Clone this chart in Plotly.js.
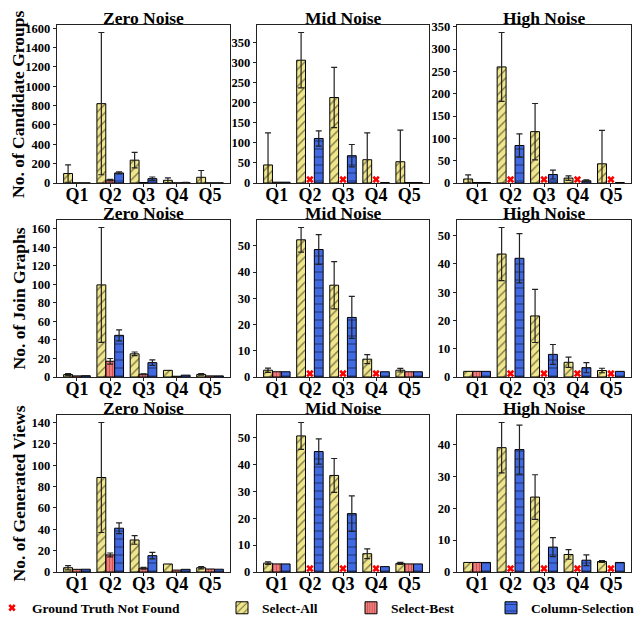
<!DOCTYPE html>
<html><head><meta charset="utf-8">
<script src="https://cdn.plot.ly/plotly-3.0.1.min.js"></script>
<style>html,body{margin:0;padding:0;background:#fff}#chart{width:638px;height:618px}</style>
</head><body><div id="chart"></div>
<script>
const queries = ['Q1','Q2','Q3','Q4','Q5'];
const noiseLevels = ['Zero Noise','Mid Noise','High Noise'];
const metrics = ['No. of Candidate Groups','No. of Join Graphs','No. of Generated Views'];
const seriesNames = ['Select-All','Select-Best','Column-Selection'];
const notFoundName = 'Ground Truth Not Found';
const yTickSteps = [[200,50,50],[20,10,10],[20,10,10]];

// ---- No. of Candidate Groups ----
const cgZeroSA = [98, 820, 236, 28, 59];
const cgZeroSAErr = [90, 735, 80, 24, 70];
const cgZeroSB = [1, 30, 5, 1, 1];
const cgZeroSBErr = [null, 8, null, null, null];
const cgZeroCS = [1, 104, 45, 4, 1];
const cgZeroCSErr = [null, 10, 17, 2, null];

const cgMidSA = [45, 306, 213, 58, 53];
const cgMidSAErr = [80, 69, 75, 67, 79];
const cgMidSB = [2, null, null, null, 1];
const cgMidSBErr = [null, null, null, null, null];
const cgMidCS = [2, 111, 68, 1, 1];
const cgMidCSErr = [null, 19, 28, null, null];

const cgHighSA = [9, 260, 115, 11, 43];
const cgHighSAErr = [9, 77, 63, 5, 75];
const cgHighSB = [1, null, null, null, null];
const cgHighSBErr = [null, null, null, null, null];
const cgHighCS = [1, 84, 19, 5, 1];
const cgHighCSErr = [null, 26, 10, 2, null];

// ---- No. of Join Graphs ----
const jgZeroSA = [2.6, 99.5, 25, 7.2, 2.8];
const jgZeroSAErr = [1.2, 62, 2, null, 0.8];
const jgZeroSB = [1.2, 17, 3, 0.8, 1.2];
const jgZeroSBErr = [null, 3, 0.5, null, null];
const jgZeroCS = [1.4, 45, 15.5, 2, 1.2];
const jgZeroCSErr = [null, 6, 3, null, null];

const jgMidSA = [2.6, 52.3, 35, 6.8, 2.6];
const jgMidSAErr = [0.8, 4.7, 9, 1.7, 0.7];
const jgMidSB = [2, null, null, null, 2];
const jgMidSBErr = [null, null, null, null, null];
const jgMidCS = [2, 48.6, 22.7, 2, 2];
const jgMidCSErr = [null, 5.7, 8, null, null];

const jgHighSA = [2, 43.5, 21.6, 5.2, 2.3];
const jgHighSAErr = [null, 9.4, 9.4, 1.8, 0.8];
const jgHighSB = [2, null, null, null, null];
const jgHighSBErr = [null, null, null, null, null];
const jgHighCS = [2, 42, 8, 3.3, 2];
const jgHighCSErr = [null, 8.7, 3.5, 1.8, null];

// ---- No. of Generated Views ----
const gvZeroSA = [4, 88.5, 30, 7.5, 4];
const gvZeroSAErr = [2, 51.5, 4, null, 1];
const gvZeroSB = [2.5, 16, 3.5, 1.8, 2.8];
const gvZeroSBErr = [null, 1.8, 0.8, null, null];
const gvZeroCS = [2.6, 41, 15.3, 2.5, 2.6];
const gvZeroCSErr = [null, 5, 3, null, null];

const gvMidSA = [3.3, 50.6, 35.9, 6.8, 3.2];
const gvMidSAErr = [0.5, 5, 6.3, 1.8, 0.4];
const gvMidSB = [3, null, null, null, 3];
const gvMidSBErr = [null, null, null, null, null];
const gvMidCS = [3, 44.8, 21.7, 2, 3];
const gvMidCSErr = [null, 4.7, 6.6, null, null];

const gvHighSA = [3, 39, 23.5, 5.5, 3.3];
const gvHighSAErr = [null, 7.9, 7, 1.5, 0.3];
const gvHighSB = [3, null, null, null, null];
const gvHighSBErr = [null, null, null, null, null];
const gvHighCS = [3, 38.4, 7.8, 3.7, 3];
const gvHighCSErr = [null, 7.7, 3, 1.7, null];

const panels = [
  [[cgZeroSA,cgZeroSAErr,cgZeroSB,cgZeroSBErr,cgZeroCS,cgZeroCSErr],
   [cgMidSA,cgMidSAErr,cgMidSB,cgMidSBErr,cgMidCS,cgMidCSErr],
   [cgHighSA,cgHighSAErr,cgHighSB,cgHighSBErr,cgHighCS,cgHighCSErr]],
  [[jgZeroSA,jgZeroSAErr,jgZeroSB,jgZeroSBErr,jgZeroCS,jgZeroCSErr],
   [jgMidSA,jgMidSAErr,jgMidSB,jgMidSBErr,jgMidCS,jgMidCSErr],
   [jgHighSA,jgHighSAErr,jgHighSB,jgHighSBErr,jgHighCS,jgHighCSErr]],
  [[gvZeroSA,gvZeroSAErr,gvZeroSB,gvZeroSBErr,gvZeroCS,gvZeroCSErr],
   [gvMidSA,gvMidSAErr,gvMidSB,gvMidSBErr,gvMidCS,gvMidCSErr],
   [gvHighSA,gvHighSAErr,gvHighSB,gvHighSBErr,gvHighCS,gvHighCSErr]]
];

// ---- styling / layout ----
const W = 638, H = 618;
const FONT = 'Liberation Serif, Times New Roman, serif';
const colPx = [[57,230],[257,429],[457,631]];
const rowPx = [[25,183],[220,377],[415,572]];
const styles = [
  {color:'#f0e68c', pattern:{shape:'/', fgcolor:'#000', size:6, solidity:0.22, fillmode:'overlay'}},
  {color:'#f08080', pattern:{shape:'|', fgcolor:'#a52a2a', size:3, solidity:0.4, fillmode:'overlay'}},
  {color:'#4169e1', pattern:{shape:'-', fgcolor:'#000', size:8, solidity:0.13, fillmode:'overlay'}}
];
const legendIds = ['legend2','legend3','legend4'];

const traces = [];
const layout = {
  width: W, height: H,
  margin: {l:0, r:0, t:0, b:0, pad:0, autoexpand:false},
  paper_bgcolor: '#fff', plot_bgcolor: '#fff',
  barmode: 'group', bargap: 0.2, bargroupgap: 0,
  font: {family: FONT, color: '#000'},
  annotations: [],
  showlegend: true
};

const errArr = a => a.map(v => v == null ? NaN : v);
let nfLegendShown = false;

for (let r = 0; r < 3; r++) {
  for (let c = 0; c < 3; c++) {
    const n = r*3 + c + 1;
    const xa = n === 1 ? 'x' : 'x' + n;
    const ya = n === 1 ? 'y' : 'y' + n;
    const d = panels[r][c];
    const first = (r === 0 && c === 0);
    let top = 0;
    for (let s = 0; s < 3; s++) {
      const vals = d[s*2], errs = d[s*2+1];
      vals.forEach((v,i) => { if (v != null) top = Math.max(top, v + (errs[i] || 0)); });
      traces.push({
        type: 'bar', x: queries, y: vals, xaxis: xa, yaxis: ya,
        name: seriesNames[s], showlegend: first, legend: legendIds[s],
        marker: {color: styles[s].color, line: {color: '#000', width: 1}, pattern: styles[s].pattern},
        error_y: {type: 'data', array: errArr(errs), visible: true, color: '#222', thickness: 1.2, width: 3},
        hoverinfo: 'skip'
      });
    }
    const yMax = top * 1.05;
    const sb = d[2];
    const nfX = queries.filter((q,i) => sb[i] == null);
    const showNf = nfX.length > 0 && !nfLegendShown;
    if (showNf) nfLegendShown = true;
    traces.push({
      type: 'scatter', mode: 'markers', x: nfX, y: nfX.map(() => yMax * 0.022),
      xaxis: xa, yaxis: ya, name: notFoundName, showlegend: showNf, legend: 'legend',
      marker: {symbol: 'x', color: '#ff0000', size: 6.5, line: {width: 0}},
      cliponaxis: false, hoverinfo: 'skip'
    });
    const [x0, x1] = colPx[c], [y0, y1] = rowPx[r];
    const axLine = {showline: true, mirror: true, linecolor: '#222', linewidth: 1.3, showgrid: false, zeroline: false, ticks: 'outside', ticklen: 3, tickcolor: '#222', automargin: false};
    layout['xaxis' + (n === 1 ? '' : n)] = Object.assign({}, axLine, {
      domain: [x0/W, x1/W], anchor: ya, type: 'category', range: [-0.6, 4.6],
      ticklabelstandoff: -8,
      tickfont: {family: FONT, size: 18, weight: 'bold', color: '#000'}
    });
    layout['yaxis' + (n === 1 ? '' : n)] = Object.assign({}, axLine, {
      domain: [1 - y1/H, 1 - y0/H], anchor: xa, range: [0, yMax],
      tick0: 0, dtick: yTickSteps[r][c],
      tickfont: {family: FONT, size: 12.5, weight: 'bold', color: '#000'}
    });
    layout.annotations.push({
      xref: 'paper', yref: 'paper', x: (x0 + x1)/2/W, y: 1 - (y0 - 7)/H,
      xanchor: 'center', yanchor: 'middle', showarrow: false,
      text: noiseLevels[c], font: {family: FONT, size: 17.5, weight: 'bold', color: '#000'}
    });
  }
  layout.annotations.push({
    xref: 'paper', yref: 'paper', x: 18/W, y: 1 - (rowPx[r][0] + rowPx[r][1])/2/H,
    xanchor: 'center', yanchor: 'middle', showarrow: false, textangle: -90,
    text: metrics[r], font: {family: FONT, size: 17.5, weight: 'bold', color: '#000'}
  });
}

const legFont = {family: FONT, size: 13.5, weight: 'bold', color: '#000'};
const legY = 1 - 608/H;
const legBase = {y: legY, xanchor: 'left', yanchor: 'middle', orientation: 'h', font: legFont, bgcolor: 'rgba(0,0,0,0)'};
layout.legend  = Object.assign({}, legBase, {x: -8/W});
layout.legend2 = Object.assign({}, legBase, {x: 222/W});
layout.legend3 = Object.assign({}, legBase, {x: 351/W});
layout.legend4 = Object.assign({}, legBase, {x: 491/W});

Plotly.newPlot('chart', traces, layout, {displayModeBar: false, staticPlot: true});
</script></body></html>
